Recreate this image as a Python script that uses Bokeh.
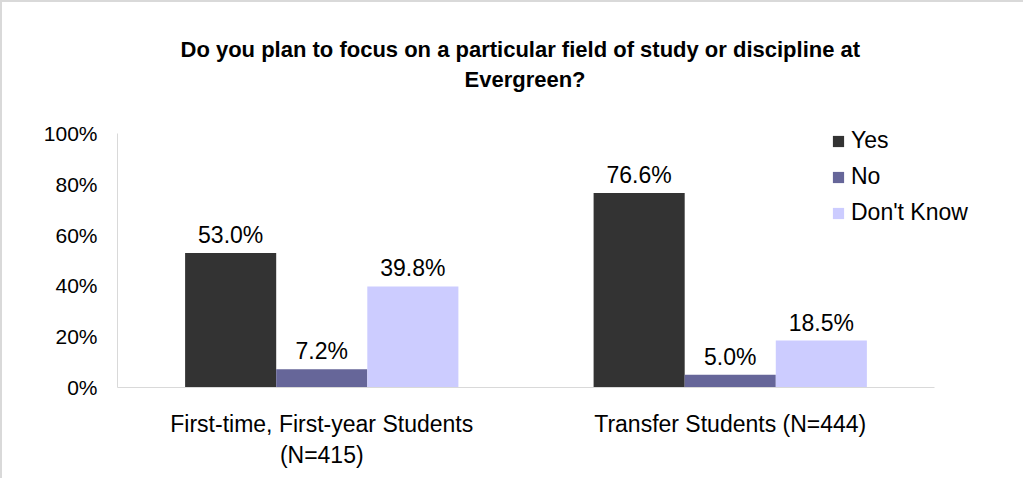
from bokeh.plotting import figure
from bokeh.models import (ColumnDataSource, Range1d, Legend, LegendItem, NumeralTickFormatter,
                          FixedTicker, Title)
from bokeh.transform import dodge
from bokeh.core.properties import value
from bokeh.embed import file_html
from bokeh.resources import INLINE

categories = ["First-time, First-year Students\n(N=415)", "Transfer Students (N=444)"]
series = ["Yes", "No", "Don't Know"]
yes_vals = [0.530, 0.766]
no_vals = [0.072, 0.050]
dk_vals = [0.398, 0.185]
colors = ["#333333", "#666699", "#ccccff"]
title_lines = ["Do you plan to focus on a particular field of study or discipline at", "Evergreen?"]
y_ticks = [0, 0.2, 0.4, 0.6, 0.8, 1.0]

FONT = "Liberation Sans"

xpos = [i + 0.5 for i in range(len(categories))]
src = ColumnDataSource(data=dict(
    x=xpos,
    yes=yes_vals, no=no_vals, dk=dk_vals,
    yes_lbl=[f"{v*100:.1f}%" for v in yes_vals],
    no_lbl=[f"{v*100:.1f}%" for v in no_vals],
    dk_lbl=[f"{v*100:.1f}%" for v in dk_vals],
))

p = figure(x_range=Range1d(0, 2.1616), y_range=Range1d(0, 1.1654),
           width=1023, height=478, output_backend="svg", toolbar_location=None,
           min_border_left=115, min_border_right=25, min_border_top=89, min_border_bottom=93,
           styles={"border-left": "2px solid #d9d9d9", "border-top": "2px solid #d9d9d9"})
p.title = None

p.add_layout(Title(text=title_lines[1], align="left", offset=347, text_font=FONT,
                   text_font_size="22px", text_font_style="bold", text_color="#000000",
                   standoff=0), "above")
p.add_layout(Title(text=title_lines[0], align="left", offset=63, text_font=FONT,
                   text_font_size="22px", text_font_style="bold", text_color="#000000",
                   standoff=6), "above")

w = 0.223
keys = ["yes", "no", "dk"]
offsets = [-w, 0.0, w]
items = []
for key, off, col, name in zip(keys, offsets, colors, series):
    r = p.vbar(x=dodge("x", off), top=key, width=w, source=src,
               fill_color=col, line_color=None)
    items.append(LegendItem(label=name, renderers=[r]))
    p.text(x=dodge("x", off), y=key, text=key + "_lbl", source=src,
           text_align="center", text_baseline="alphabetic", y_offset=-18,
           text_font=value(FONT), text_font_size="23px", text_color="#000000")

legend = Legend(items=items, location=(714, 161), border_line_color=None,
                background_fill_alpha=0, padding=0, margin=0, spacing=9,
                glyph_width=14, glyph_height=14, label_height=22, label_standoff=6,
                label_text_font=FONT, label_text_font_size="23px", label_text_color="#000000")
p.add_layout(legend, "center")

p.xgrid.grid_line_color = None
p.ygrid.grid_line_color = None
p.outline_line_color = None

p.yaxis.ticker = FixedTicker(ticks=y_ticks)
p.yaxis.formatter = NumeralTickFormatter(format="0%")
p.yaxis.bounds = (0, 1)
p.yaxis.major_tick_line_color = None
p.yaxis.minor_tick_line_color = None
p.yaxis.axis_line_color = "#d9d9d9"
p.yaxis.major_label_text_font = FONT
p.yaxis.major_label_text_font_size = "21px"
p.yaxis.major_label_text_color = "#000000"
p.yaxis.major_label_standoff = 14

p.xaxis.ticker = FixedTicker(ticks=xpos)
p.xaxis.major_label_overrides = {x: c for x, c in zip(xpos, categories)}
p.xaxis.bounds = (0, len(categories))
p.xaxis.major_tick_line_color = None
p.xaxis.minor_tick_line_color = None
p.xaxis.axis_line_color = "#d9d9d9"
p.xaxis.major_label_text_font = FONT
p.xaxis.major_label_text_font_size = "23px"
p.xaxis.major_label_text_color = "#000000"
p.xaxis.major_label_standoff = 17

open("out.html", "w").write(file_html(p, INLINE))
